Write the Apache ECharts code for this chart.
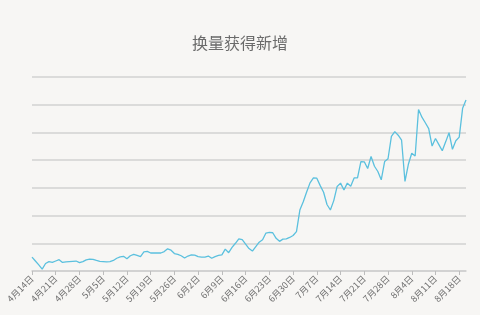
<!DOCTYPE html>
<html><head><meta charset="utf-8">
<script src="https://cdn.jsdelivr.net/npm/echarts@6/dist/echarts.min.js"></script>
<style>html,body{margin:0;padding:0;background:#f7f6f4;}#c{width:480px;height:315px;}</style>
</head><body><div id="c"></div>
<script>
var titleText = "换量获得新增";
var categories = [
"4月14日","4月15日","4月16日","4月17日","4月18日","4月19日","4月20日","4月21日","4月22日","4月23日","4月24日","4月25日","4月26日","4月27日","4月28日","4月29日","4月30日",
"5月1日","5月2日","5月3日","5月4日","5月5日","5月6日","5月7日","5月8日","5月9日","5月10日","5月11日","5月12日","5月13日","5月14日","5月15日","5月16日","5月17日","5月18日","5月19日","5月20日","5月21日","5月22日","5月23日","5月24日","5月25日","5月26日","5月27日","5月28日","5月29日","5月30日","5月31日",
"6月1日","6月2日","6月3日","6月4日","6月5日","6月6日","6月7日","6月8日","6月9日","6月10日","6月11日","6月12日","6月13日","6月14日","6月15日","6月16日","6月17日","6月18日","6月19日","6月20日","6月21日","6月22日","6月23日","6月24日","6月25日","6月26日","6月27日","6月28日","6月29日","6月30日",
"7月1日","7月2日","7月3日","7月4日","7月5日","7月6日","7月7日","7月8日","7月9日","7月10日","7月11日","7月12日","7月13日","7月14日","7月15日","7月16日","7月17日","7月18日","7月19日","7月20日","7月21日","7月22日","7月23日","7月24日","7月25日","7月26日","7月27日","7月28日","7月29日","7月30日","7月31日",
"8月1日","8月2日","8月3日","8月4日","8月5日","8月6日","8月7日","8月8日","8月9日","8月10日","8月11日","8月12日","8月13日","8月14日","8月15日","8月16日","8月17日","8月18日","8月19日","8月20日"
];
var values = [
50,36,22,7,27,34,31,36,41,31,33,34,35,36,30,34,40,43,42,38,35,34,33,34,38,46,51,53,44,55,
60,56,52,69,71,65,65,65,65,70,80,75,63,60,55,47,54,58,57,52,50,50,54,46,52,56,58,79,66,85,
100,116,113,97,81,72,88,104,113,137,139,138,118,107,115,116,121,128,142,220,250,285,318,336,335,308,284,240,220,254,
305,317,292,317,306,336,336,395,394,370,413,378,359,329,395,405,486,503,490,472,323,385,425,415,583,555,535,514,451,478,
456,434,466,499,439,470,483,587,617
];
var yMin = 0, yMax = 700, yStep = 100;

var chart = echarts.init(document.getElementById('c'));
chart.setOption({
  backgroundColor: '#f7f6f4',
  animation: false,
  title: {text: titleText, left: 'center', top: 30,
    textStyle: {fontSize: 16, fontWeight: 'normal', color: '#6b6b6b', fontFamily: 'Noto Sans CJK SC'}},
  grid: {left: 32, right: 14, top: 77, bottom: 44},
  xAxis: {
    type: 'category', data: categories, boundaryGap: false,
    axisLine: {lineStyle: {color: '#cfcfcf', width: 1.5}},
    axisTick: {interval: 6, length: 4, lineStyle: {color: '#bdbdbd'}},
    axisLabel: {interval: 6, rotate: 45, fontSize: 9, color: '#707070', margin: 6, fontFamily: 'Noto Sans CJK SC'},
    splitLine: {show: false}
  },
  yAxis: {
    type: 'value', min: yMin, max: yMax, interval: yStep,
    axisLine: {show: false}, axisTick: {show: false}, axisLabel: {show: false},
    splitLine: {lineStyle: {color: '#d2d2d2', width: 1.5}}
  },
  series: [{
    type: 'line', data: values, symbol: 'none',
    lineStyle: {color: '#5bc0de', width: 1.3},
    itemStyle: {color: '#5bc0de'}
  }]
});
</script></body></html>
